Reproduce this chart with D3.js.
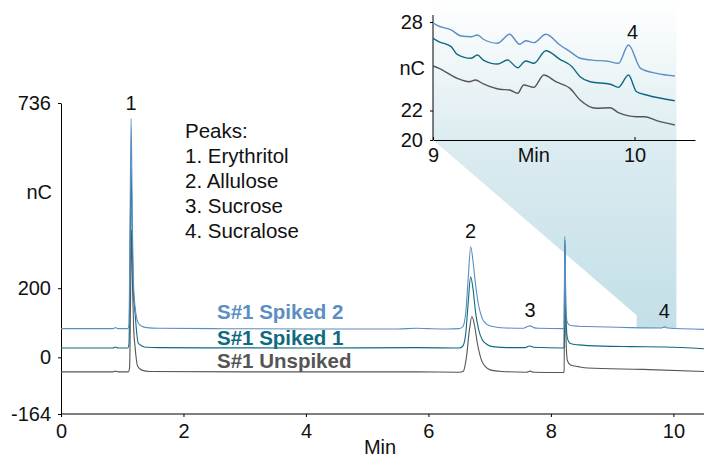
<!DOCTYPE html>
<html>
<head>
<meta charset="utf-8">
<script src="https://cdn.jsdelivr.net/npm/d3@7"></script>
<style>
  body { margin: 0; background: #fff; }
  svg { display: block; font-family: "Liberation Sans", Arial, Helvetica, sans-serif; }
  .axis path, .axis line { stroke: #000; stroke-width: 1; }
  .axis text { font-size: 20px; fill: #111; }
</style>
</head>
<body>
<div id="chart"></div>
<script>
// chromatogram traces, [minutes, nC]
const spiked2 = [
  [0, 83], [0.85, 83], [0.89, 86], [0.93, 83], [1.09, 83], [1.11, 95], [1.128, 400], [1.145, 691],
  [1.163, 420], [1.18, 230], [1.21, 146], [1.26, 100], [1.32, 90], [1.4, 86], [1.6, 84], [2.5, 83],
  [4, 82], [5.5, 82], [5.8, 84], [6.0, 83], [6.3, 82], [6.5, 83], [6.56, 88], [6.61, 130], [6.65, 230],
  [6.69, 320], [6.73, 275], [6.77, 210], [6.82, 150], [6.88, 112], [6.95, 96], [7.05, 89], [7.25, 85],
  [7.55, 84], [7.62, 89], [7.66, 91], [7.72, 86], [7.8, 84], [8.2, 83], [8.215, 85], [8.228, 350],
  [8.245, 140], [8.27, 100], [8.32, 92], [8.45, 90], [8.6, 89], [9.3, 86], [9.8, 85], [9.86, 88],
  [9.9, 85], [10.5, 81]
];
const spiked1 = [
  [0, 27], [0.85, 27], [0.89, 30], [0.93, 27], [1.09, 27], [1.11, 38], [1.128, 300], [1.145, 550],
  [1.163, 330], [1.18, 200], [1.21, 126], [1.26, 42], [1.32, 33], [1.4, 29], [1.6, 28], [4, 27],
  [5.8, 28], [6.5, 27], [6.56, 32], [6.61, 70], [6.65, 160], [6.69, 233], [6.73, 195], [6.77, 130],
  [6.82, 80], [6.88, 50], [6.95, 38], [7.05, 31], [7.3, 28], [7.58, 28], [7.65, 33], [7.72, 29],
  [8.2, 27], [8.215, 29], [8.228, 340], [8.245, 120], [8.27, 55], [8.32, 40], [8.45, 36], [8.6, 34],
  [9.3, 31], [9.86, 30], [10.5, 25]
];
const unspiked = [
  [0, -42], [0.85, -42], [0.89, -40], [0.93, -42], [1.1, -42], [1.12, -30], [1.135, 150], [1.15, 369],
  [1.168, 210], [1.185, 90], [1.21, 29], [1.25, -25], [1.32, -37], [1.45, -41], [3, -42], [5.8, -42],
  [6.5, -43], [6.57, -40], [6.62, 0], [6.67, 80], [6.71, 118], [6.75, 95], [6.8, 40], [6.86, -5],
  [6.93, -27], [7.02, -37], [7.2, -41], [7.6, -43], [7.66, -40], [7.72, -43], [8.2, -44], [8.215, -42],
  [8.228, 330], [8.245, 60], [8.27, -10], [8.32, -22], [8.45, -27], [8.6, -31], [9.5, -35], [10.5, -41]
];

// zoomed traces for the inset, 9 - 10.2 min
const insetSpiked2 = [
  [9.0, 27.95], [9.016, 27.8], [9.09, 27.46], [9.14, 27.05], [9.19, 27.0], [9.22, 27.12], [9.25, 26.83],
  [9.32, 26.56], [9.38, 27.17], [9.43, 26.49], [9.46, 26.73], [9.5, 26.6], [9.56, 27.17], [9.63, 26.44],
  [9.68, 25.99], [9.73, 25.54], [9.8, 25.4], [9.86, 25.36], [9.92, 25.2], [9.97, 26.44], [10.03, 24.86],
  [10.11, 24.52], [10.2, 24.34]
];
const insetSpiked1 = [
  [9.0, 26.89], [9.03, 26.66], [9.09, 26.33], [9.12, 25.81], [9.19, 25.54], [9.22, 25.76], [9.25, 25.42],
  [9.32, 25.15], [9.37, 25.42], [9.42, 24.9], [9.46, 25.36], [9.5, 25.2], [9.56, 26.05], [9.63, 25.47],
  [9.69, 24.97], [9.73, 24.29], [9.78, 23.95], [9.88, 23.78], [9.92, 23.57], [9.97, 24.41], [10.01, 23.27],
  [10.06, 23.05], [10.2, 22.66]
];
const insetUnspiked = [
  [9.0, 25.02], [9.03, 24.86], [9.12, 24.18], [9.18, 23.95], [9.21, 24.07], [9.25, 23.8], [9.33, 23.44],
  [9.38, 23.39], [9.42, 23.17], [9.45, 23.73], [9.5, 23.57], [9.55, 24.41], [9.61, 23.95], [9.68, 23.5],
  [9.73, 22.71], [9.81, 22.15], [9.88, 22.19], [9.92, 21.85], [10.01, 21.58], [10.05, 21.58],
  [10.11, 21.31], [10.2, 21.02]
];

const seriesNames = ["S#1 Spiked 2", "S#1 Spiked 1", "S#1 Unspiked"];
const seriesColors = ["#5b8ec2", "#0f6a80", "#555555"];

const peakLabels = ["1", "2", "3", "4"];
const peakTimes = [1.145, 6.69, 7.66, 9.85];
const peakNames = ["Peaks:", "1. Erythritol", "2. Allulose", "3. Sucrose", "4. Sucralose"];

const xTicks = [0, 2, 4, 6, 8, 10];
const yTicks = [-164, 0, 200, 736];
const insetXTicks = [9, 10];
const insetYTicks = [20, 22, 28];
const zoomWindow = [9.4, 10.05];

const width = 704, height = 458;
const plain = d => String(d); // hyphen minus like the original

const svg = d3.select("#chart").append("svg")
  .attr("width", width)
  .attr("height", height);

const x = d3.scaleLinear().domain([0, 10.5]).range([61, 704]);
const y = d3.scaleLinear().domain([-164, 736]).range([414, 103]);

const ix = d3.scaleLinear().domain([9, 10.3]).range([433, 695]);
const iy = d3.scaleLinear().domain([20, 28]).range([140, 22]);

// shaded zoom callout behind everything
const grad = svg.append("defs").append("linearGradient")
  .attr("id", "zoomfill")
  .attr("gradientUnits", "userSpaceOnUse")
  .attr("x1", 0).attr("y1", 0).attr("x2", 0).attr("y2", y(85));
grad.append("stop").attr("offset", 0).attr("stop-color", "#ffffff");
grad.append("stop").attr("offset", 0.43).attr("stop-color", "#dcecf1");
grad.append("stop").attr("offset", 1).attr("stop-color", "#c3dfe7");

const callout = [
  [ix(9), 0], [x(zoomWindow[1]), 0], [x(zoomWindow[1]), y(85)],
  [x(zoomWindow[0]), y(85)], [x(zoomWindow[0]), y(122)], [ix(9), iy(20)]
];
svg.append("path")
  .attr("d", d3.line()(callout) + "Z")
  .attr("fill", "url(#zoomfill)");

// main axes
svg.append("g")
  .attr("class", "axis")
  .attr("transform", `translate(0,${y(-164)})`)
  .call(d3.axisBottom(x).tickValues(xTicks).tickFormat(plain).tickSize(3).tickSizeOuter(0).tickPadding(7))
  .select(".domain").attr("d", `M${x(0)},0H${width}`);

svg.append("g")
  .attr("class", "axis")
  .attr("transform", `translate(${x(0)},0)`)
  .call(d3.axisLeft(y).tickValues(yTicks).tickFormat(plain).tickSize(3).tickSizeOuter(0).tickPadding(7));

svg.append("text")
  .attr("x", 52).attr("y", 199)
  .attr("text-anchor", "end")
  .style("font-size", "20px").attr("fill", "#111")
  .text("nC");

svg.append("text")
  .attr("x", 380).attr("y", 454)
  .attr("text-anchor", "middle")
  .style("font-size", "20px").attr("fill", "#111")
  .text("Min");

// traces
const mainLine = d3.line()
  .x(d => x(d[0]))
  .y(d => y(d[1]))
  .curve(d3.curveMonotoneX);

const traces = [unspiked, spiked1, spiked2];
const traceColors = [seriesColors[2], seriesColors[1], seriesColors[0]];
svg.append("g")
  .selectAll("path")
  .data(traces)
  .join("path")
    .attr("d", mainLine)
    .attr("fill", "none")
    .attr("stroke", (d, i) => traceColors[i])
    .attr("stroke-width", 1.1)
    .attr("stroke-linejoin", "round");

// peak numbers above the top trace
svg.append("g")
  .selectAll("text")
  .data(peakLabels)
  .join("text")
    .attr("x", (d, i) => x(peakTimes[i]))
    .attr("y", (d, i) => {
      const top = d3.max(spiked2.filter(p => Math.abs(p[0] - peakTimes[i]) < 0.06), p => p[1]);
      return y(top) - 9;
    })
    .attr("text-anchor", "middle")
    .style("font-size", "20px").attr("fill", "#111")
    .text(d => d);

// peak name list
svg.append("g")
  .selectAll("text")
  .data(peakNames)
  .join("text")
    .attr("x", 185)
    .attr("y", (d, i) => 138 + i * 25)
    .style("font-size", "20.5px").attr("fill", "#111")
    .text(d => d);

// trace names
svg.append("g")
  .selectAll("text")
  .data(seriesNames)
  .join("text")
    .attr("x", 217)
    .attr("y", (d, i) => [319, 345, 368][i])
    .style("font-size", "20.5px")
    .style("font-weight", "bold")
    .attr("fill", (d, i) => seriesColors[i])
    .text(d => d);

// inset
const inset = svg.append("g");

inset.append("g")
  .attr("class", "axis")
  .attr("transform", `translate(0,${iy(20)})`)
  .call(d3.axisBottom(ix).tickValues(insetXTicks).tickFormat(plain).tickSize(3).tickSizeOuter(0).tickPadding(5))
  .call(g => g.selectAll(".tick line").attr("y2", -3));

inset.append("g")
  .attr("class", "axis")
  .attr("transform", `translate(${ix(9)},0)`)
  .call(d3.axisLeft(iy).tickValues(insetYTicks).tickFormat(plain).tickSize(3).tickSizeOuter(0).tickPadding(7))
  .select(".domain").attr("d", `M0,${iy(20)}V15`);

inset.append("text")
  .attr("x", 425).attr("y", iy(25) + 9)
  .attr("text-anchor", "end")
  .style("font-size", "20px").attr("fill", "#111")
  .text("nC");

inset.append("text")
  .attr("x", ix(9.5)).attr("y", 162)
  .attr("text-anchor", "middle")
  .style("font-size", "20px").attr("fill", "#111")
  .text("Min");

const insetLine = d3.line()
  .x(d => ix(d[0]))
  .y(d => iy(d[1]))
  .curve(d3.curveMonotoneX);

inset.append("g")
  .selectAll("path")
  .data([insetUnspiked, insetSpiked1, insetSpiked2])
  .join("path")
    .attr("d", insetLine)
    .attr("fill", "none")
    .attr("stroke", (d, i) => traceColors[i])
    .attr("stroke-width", 1.4)
    .attr("stroke-linejoin", "round");

const insetPeak = insetSpiked2.filter(p => p[0] > 9.9).reduce((a, b) => (b[1] > a[1] ? b : a));
inset.append("text")
  .attr("x", ix(insetPeak[0]) + 4)
  .attr("y", iy(insetPeak[1]) - 6)
  .attr("text-anchor", "middle")
  .style("font-size", "20px").attr("fill", "#111")
  .text(peakLabels[3]);
</script>
</body>
</html>
